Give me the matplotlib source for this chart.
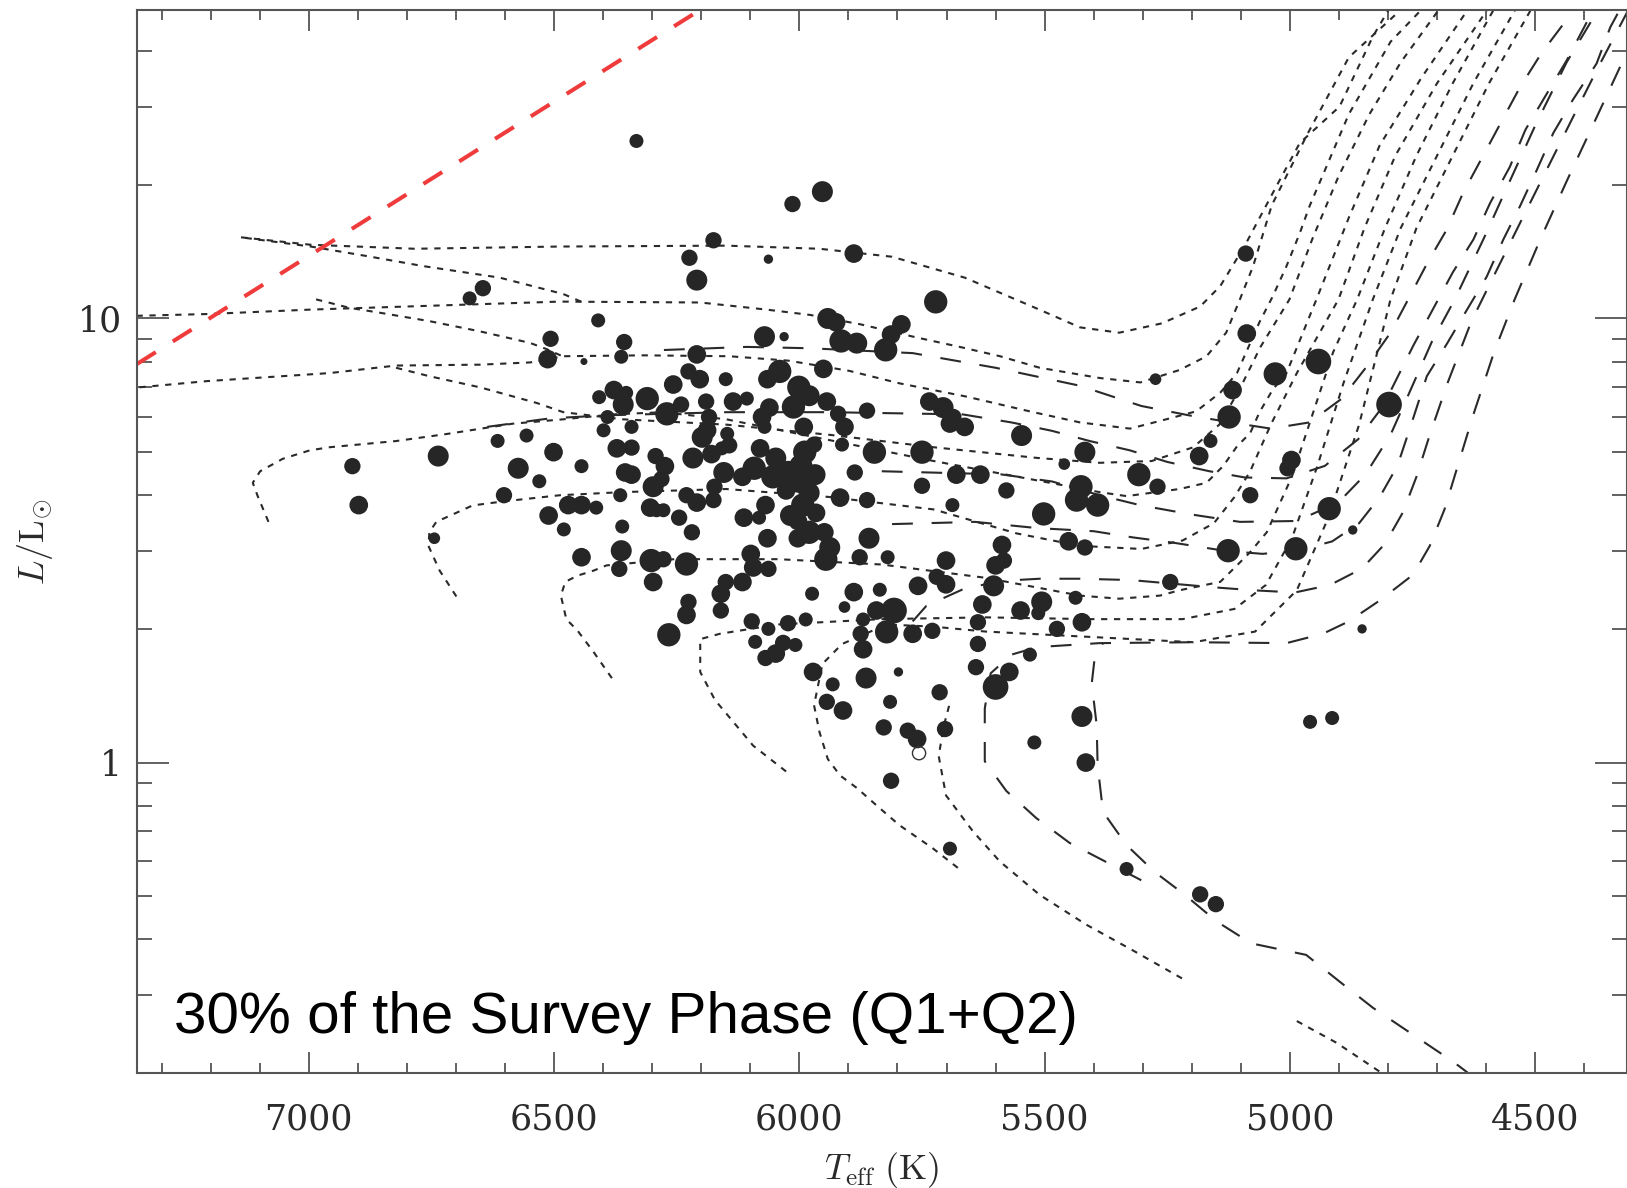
import numpy as np
import matplotlib
matplotlib.use('Agg')
import matplotlib.pyplot as plt
from matplotlib import ticker

plt.rcParams['font.family'] = ['DejaVu Serif']
plt.rcParams['mathtext.fontset'] = 'cm'

# stars: Teff (K), L/Lsun, marker radius as read (px)
star_teff = [6332, 5953, 6014, 6175, 5889, 6224, 6063, 6209, 5090, 6645, 6672, 5722, 6410, 6507, 6513, 6439,
             6357, 6363, 6209, 6071, 6031, 5942, 5925, 5915, 5883, 5824, 5813, 5792, 5088, 4942, 5030, 5274,
             5117, 5124, 5162, 5185, 4997, 5005, 5081, 4798, 4920, 4872, 4988, 5126, 5244, 4853, 4959, 4914,
             5418, 5460, 5308, 5270, 5426, 5435, 5392, 5502, 5451, 5418, 5547, 5578, 5631, 5688, 5587, 5583,
             5600, 5604, 5627, 5636, 5636, 5640, 5600, 5572, 5530, 5513, 5549, 5506, 5475, 5437, 5424, 5424,
             5416, 5521, 5333, 5183, 5151, 5693, 5813, 5703, 5714, 5760, 5779, 5828, 5815, 5798, 5864, 5972,
             5932, 5911, 5944, 5769, 5729, 5807, 5822, 5843, 5870, 5875, 5836, 5889, 5877, 5820, 5858, 5862,
             5862, 5847, 5750, 5750, 5680, 5693, 5663, 5735, 5707, 5686, 5908, 5913, 5944, 5980, 6001, 5951,
             6040, 6065, 6076, 6071, 6080, 6048, 6092, 6116, 6054, 6023, 5997, 5968, 5989, 6000, 6027, 5980,
             5993, 6018, 5966, 6003, 5980, 6003, 5949, 5946, 5938, 6069, 6082, 6065, 6113, 6094, 6063, 6099,
             6116, 6150, 6160, 6160, 6226, 6230, 6266, 6097, 6090, 6063, 6069, 6048, 6033, 6008, 5987, 5974,
             6023, 6143, 6179, 6198, 6217, 6188, 6184, 6147, 6158, 6190, 6203, 6226, 6257, 6241, 6270, 6310,
             6359, 6353, 6378, 6408, 6391, 6372, 6355, 6342, 6293, 6274, 6281, 6298, 6291, 6277, 6304, 6245,
             6230, 6209, 6175, 6173, 6154, 6219, 6230, 6277, 6298, 6302, 6363, 6367, 6361, 6365, 6414, 6444,
             6471, 6480, 6511, 6444, 6501, 6573, 6530, 6602, 6556, 6615, 6736, 6911, 6898, 6744, 6399, 6342,
             6444, 6107, 6150, 6135, 6061, 5991, 5970, 5921, 5887, 5917, 5870, 6012, 5908, 5758, 5720, 5701,
             5701, 6342]
star_lum = [25.1, 19.3, 18.1, 15.0, 14.0, 13.7, 13.6, 12.2, 14.0, 11.7, 11.1, 10.9, 9.9, 9.0, 8.1, 8.0,
            8.85, 8.2, 8.3, 9.1, 9.1, 10.0, 9.8, 8.9, 8.8, 8.5, 9.2, 9.7, 9.25, 8.0, 7.5, 7.3,
            6.9, 6.0, 5.3, 4.9, 4.8, 4.6, 4.0, 6.4, 3.73, 3.34, 3.03, 3.0, 2.55, 2.0, 1.235, 1.26,
            5.0, 4.7, 4.45, 4.18, 4.18, 3.9, 3.8, 3.63, 3.15, 3.05, 5.45, 4.1, 4.45, 3.8, 3.09, 2.85,
            2.78, 2.5, 2.27, 2.07, 1.85, 1.64, 1.48, 1.6, 1.75, 2.17, 2.2, 2.3, 2.0, 2.35, 2.07, 1.27,
            1.0, 1.11, 0.576, 0.505, 0.48, 0.64, 0.91, 1.19, 1.44, 1.13, 1.18, 1.2, 1.37, 1.6, 1.55, 1.6,
            1.5, 1.31, 1.37, 1.95, 1.98, 2.2, 1.97, 2.2, 2.1, 1.95, 2.45, 2.42, 2.9, 2.9, 3.2, 3.9,
            6.2, 5.0, 5.0, 4.2, 4.45, 5.8, 5.7, 6.5, 6.3, 6.0, 5.7, 5.2, 6.5, 6.7, 7.0, 7.7,
            7.6, 7.3, 6.0, 5.7, 5.1, 4.85, 4.6, 4.4, 4.4, 4.5, 4.65, 4.45, 5.0, 4.3, 4.1, 4.05,
            3.8, 3.6, 3.65, 3.5, 3.3, 3.2, 3.3, 2.87, 3.05, 3.8, 3.56, 3.2, 3.56, 2.75, 2.73, 2.95,
            2.55, 2.55, 2.4, 2.2, 2.3, 2.15, 1.94, 2.08, 1.87, 2.0, 1.72, 1.76, 1.86, 1.84, 2.1, 2.4,
            2.06, 5.18, 4.95, 5.4, 4.85, 5.6, 6.0, 5.5, 5.1, 6.5, 7.3, 7.6, 7.1, 6.4, 6.1, 6.6,
            6.4, 6.8, 6.9, 6.65, 6.0, 5.1, 4.5, 4.45, 4.9, 4.65, 4.35, 4.18, 3.7, 3.7, 3.75, 3.56,
            4.0, 3.85, 3.9, 4.18, 4.5, 3.3, 2.8, 2.87, 2.55, 2.85, 3.0, 2.73, 3.4, 4.0, 3.75, 3.8,
            3.8, 3.35, 3.6, 2.9, 5.0, 4.6, 4.3, 4.0, 5.45, 5.3, 4.9, 4.65, 3.8, 3.2, 5.6, 5.7,
            4.65, 6.6, 7.3, 6.5, 6.3, 5.7, 5.2, 6.1, 4.5, 3.95, 1.8, 6.32, 2.24, 2.5, 2.62, 2.52,
            2.85, 5.12]
star_r = [6, 9, 7, 7, 8, 7, 4, 9, 7, 7, 6, 10, 6, 7, 8, 3,
          7, 6, 8, 9, 4, 9, 8, 10, 9, 10, 8, 8, 8, 11, 10, 5,
          8, 10, 6, 8, 8, 7, 7, 11, 10, 4, 10, 10, 7, 4, 6, 6,
          9, 5, 10, 7, 10, 10, 10, 10, 8, 7, 9, 7, 8, 6, 8, 7,
          8, 9, 8, 7, 7, 7, 11, 8, 6, 6, 8, 9, 7, 6, 8, 9,
          8, 6, 6, 7, 7, 6, 7, 7, 7, 8, 7, 7, 6, 4, 9, 8,
          6, 8, 7, 8, 7, 11, 10, 8, 6, 7, 6, 8, 7, 6, 9, 7,
          7, 10, 10, 7, 8, 8, 8, 8, 9, 7, 8, 6, 8, 9, 10, 8,
          10, 8, 8, 6, 8, 9, 10, 8, 10, 10, 10, 9, 10, 10, 8, 9,
          10, 9, 8, 8, 10, 8, 8, 10, 9, 8, 6, 8, 8, 8, 7, 8,
          8, 7, 8, 7, 7, 8, 10, 7, 6, 6, 7, 8, 7, 6, 6, 6,
          7, 7, 8, 9, 9, 8, 7, 6, 6, 7, 8, 7, 8, 7, 10, 10,
          9, 6, 8, 6, 6, 8, 8, 8, 7, 8, 7, 9, 6, 6, 8, 7,
          7, 8, 7, 7, 9, 7, 10, 7, 8, 10, 9, 7, 6, 6, 6, 8,
          8, 6, 8, 8, 8, 9, 6, 7, 6, 6, 9, 7, 8, 5, 6, 6,
          6, 6, 6, 8, 8, 8, 7, 7, 7, 8, 8, 10, 5, 8, 7, 8,
          8, 7]
open_teff = [5756]
open_lum = [1.05]

# red dashed limit line
red_teff = [7350, 6190]
red_lum = [7.9, 50.5]

# dotted evolutionary tracks (Teff, log L)
d1_teff = [6445, 6481, 6611, 6767, 6884, 6996, 7140, 6996, 6784, 6488, 6149, 5959, 5811, 5663, 5515, 5428,
           5348, 5261, 5183, 5142, 5092, 5028, 4980, 4899, 4831, 4800]
d1_logl = [1.038, 1.055, 1.092, 1.118, 1.141, 1.162, 1.183, 1.166, 1.157, 1.162, 1.164, 1.157, 1.139, 1.092,
           1.022, 0.980, 0.968, 0.989, 1.027, 1.073, 1.164, 1.297, 1.395, 1.477, 1.635, 1.693]
d2_teff = [7351, 7207, 6996, 6742, 6488, 6202, 6067, 5978, 5876, 5760, 5673, 5591, 5510, 5388, 5305, 5225,
           5170, 5130, 5102, 5075, 5037, 4965, 4880, 4776]
d2_logl = [1.006, 1.010, 1.020, 1.029, 1.038, 1.036, 1.020, 1.008, 0.987, 0.957, 0.936, 0.915, 0.889, 0.866,
           0.856, 0.884, 0.915, 0.968, 1.043, 1.118, 1.255, 1.414, 1.588, 1.693]
d2b_teff = [6985, 6917, 6850, 6754, 6651, 6549, 6515, 6477]
d2b_logl = [1.043, 1.024, 1.012, 0.994, 0.971, 0.945, 0.931, 0.912]
d3_teff = [7345, 7207, 6958, 6822, 6651, 6549, 6481, 6319, 6143, 6022, 5898, 5796, 5659, 5523, 5428, 5326,
           5252, 5191, 5142, 5108, 5062, 5035, 5007, 4980, 4960, 4880, 4795, 4734]
d3_logl = [0.845, 0.859, 0.877, 0.894, 0.896, 0.901, 0.915, 0.917, 0.915, 0.905, 0.882, 0.854, 0.824, 0.789,
           0.766, 0.752, 0.773, 0.791, 0.833, 0.877, 0.992, 1.050, 1.118, 1.192, 1.253, 1.460, 1.623, 1.693]
d3b_teff = [6822, 6754, 6651, 6536, 6481, 6361, 6149, 5938, 5726, 5515, 5388, 5282, 5197, 5144, 5102, 5060,
            5001, 4954, 4901, 4838, 4774, 4698]
d3b_logl = [0.889, 0.870, 0.845, 0.810, 0.789, 0.773, 0.761, 0.738, 0.710, 0.686, 0.675, 0.679, 0.710, 0.761,
            0.842, 0.936, 1.043, 1.180, 1.320, 1.460, 1.577, 1.693]
d4_teff = [7082, 7104, 7114, 7099, 7053, 6998, 6958, 6822, 6718, 6585, 6481, 6380, 6279, 6149, 5938, 5726,
           5557, 5388, 5333, 5225, 5170, 5136, 5108, 5081, 5062, 5035, 5007, 4946, 4880, 4817, 4732, 4639]
d4_logl = [0.542, 0.600, 0.630, 0.656, 0.684, 0.703, 0.710, 0.724, 0.740, 0.763, 0.773, 0.784, 0.789, 0.773,
           0.726, 0.679, 0.644, 0.609, 0.600, 0.616, 0.630, 0.668, 0.712, 0.742, 0.789, 0.840, 0.877, 1.043,
           1.227, 1.390, 1.542, 1.693]
d5_teff = [6699, 6733, 6756, 6754, 6740, 6712, 6666, 6604, 6488, 6361, 6149, 5938, 5726, 5557, 5428, 5303,
           5219, 5155, 5113, 5081, 5039, 4986, 4901, 4848, 4785, 4700, 4599]
d5_logl = [0.374, 0.432, 0.488, 0.519, 0.542, 0.556, 0.579, 0.588, 0.602, 0.609, 0.616, 0.598, 0.570, 0.516,
           0.488, 0.481, 0.500, 0.539, 0.598, 0.656, 0.761, 0.877, 1.043, 1.204, 1.367, 1.530, 1.693]
d6_teff = [6382, 6420, 6452, 6475, 6486, 6477, 6452, 6420, 6393, 6255, 6043, 5832, 5620, 5428, 5348, 5265,
           5225, 5142, 5108, 5081, 5047, 4996, 4954, 4912, 4863, 4806, 4742, 4668, 4586]
d6_logl = [0.190, 0.250, 0.297, 0.323, 0.376, 0.407, 0.421, 0.432, 0.444, 0.458, 0.458, 0.446, 0.416, 0.376,
           0.369, 0.376, 0.388, 0.407, 0.444, 0.474, 0.519, 0.644, 0.784, 0.924, 1.043, 1.204, 1.367, 1.530,
           1.693]
d7_teff = [6027, 6094, 6172, 6202, 6202, 6162, 6043, 5832, 5620, 5408, 5219, 5113, 5049, 4996, 4944, 4891,
           4831, 4774, 4700, 4626, 4542]
d7_logl = [-0.020, 0.038, 0.141, 0.204, 0.278, 0.290, 0.311, 0.323, 0.327, 0.323, 0.323, 0.346, 0.400, 0.505,
           0.668, 0.854, 1.043, 1.204, 1.367, 1.530, 1.693]
d8_teff = [5677, 5728, 5796, 5842, 5883, 5917, 5942, 5959, 5970, 5953, 5913, 5822, 5726, 5620, 5408, 5197,
           5071, 4986, 4922, 4859, 4795, 4742, 4668, 4594, 4510]
d8_logl = [-0.237, -0.193, -0.141, -0.097, -0.057, -0.029, 0.008, 0.069, 0.129, 0.222, 0.267, 0.311, 0.306,
           0.295, 0.283, 0.271, 0.295, 0.388, 0.551, 0.761, 1.043, 1.204, 1.367, 1.530, 1.693]
d9_teff = [5220, 5320, 5415, 5510, 5591, 5646, 5701, 5716, 5705, 5694]
d9_logl = [-0.486, -0.423, -0.365, -0.298, -0.223, -0.155, -0.074, 0.015, 0.085, 0.131]
d10_teff = [4986, 4905, 4817]
d10_logl = [-0.582, -0.631, -0.696]

# long-dashed evolutionary tracks (Teff, log L)
e1_teff = [6276, 6107, 5980, 5769, 5600, 5430, 5303, 5197, 5092, 5039, 4960, 4895, 4844, 4795, 4759, 4719,
           4681, 4647, 4607, 4571, 4531, 4487, 4444, 4410]
e1_logl = [0.929, 0.936, 0.933, 0.922, 0.889, 0.849, 0.803, 0.780, 0.761, 0.752, 0.766, 0.819, 0.891, 0.968,
           1.043, 1.127, 1.199, 1.283, 1.365, 1.439, 1.521, 1.598, 1.661, 1.717]
e2_teff = [6636, 6509, 6393, 6149, 5938, 5667, 5568, 5485, 5408, 5326, 5250, 5164, 5092, 5007, 4929, 4861,
           4810, 4783, 4749, 4709, 4668, 4626, 4592, 4552, 4520, 4476, 4436, 4396, 4370]
e2_logl = [0.756, 0.775, 0.782, 0.789, 0.789, 0.784, 0.766, 0.747, 0.724, 0.703, 0.677, 0.656, 0.642, 0.640,
           0.668, 0.728, 0.803, 0.863, 0.938, 1.020, 1.104, 1.178, 1.260, 1.341, 1.425, 1.507, 1.581, 1.665,
           1.717]
e2b_teff = [5832, 5589, 5485, 5388, 5303, 5197, 5102, 4986, 4901, 4846, 4795, 4753, 4711, 4664, 4605, 4552,
            4499, 4436, 4360]
e2b_logl = [0.656, 0.649, 0.633, 0.602, 0.579, 0.558, 0.542, 0.544, 0.586, 0.649, 0.738, 0.842, 0.947, 1.043,
            1.180, 1.309, 1.437, 1.577, 1.717]
e3_teff = [5811, 5642, 5515, 5400, 5320, 5237, 5134, 5056, 4986, 4914, 4859, 4817, 4781, 4753, 4721, 4679,
           4639, 4599, 4565, 4531, 4497, 4463, 4423, 4375, 4347, 4317]
e3_logl = [0.537, 0.542, 0.528, 0.521, 0.507, 0.495, 0.477, 0.470, 0.477, 0.498, 0.539, 0.598, 0.668, 0.761,
           0.870, 0.945, 1.020, 1.094, 1.178, 1.253, 1.334, 1.418, 1.493, 1.574, 1.656, 1.717]
e4a_teff = [5769, 5741, 5667, 5591, 5510, 5428, 5324, 5159, 5075, 4990, 4918, 4853, 4806, 4770, 4742, 4715,
            4679, 4630, 4584, 4531, 4478, 4425, 4372, 4313]
e4a_logl = [0.318, 0.353, 0.390, 0.409, 0.414, 0.414, 0.411, 0.395, 0.388, 0.383, 0.400, 0.437, 0.493, 0.563,
            0.644, 0.738, 0.854, 0.994, 1.097, 1.215, 1.332, 1.449, 1.565, 1.689]
e4b_teff = [4626, 4668, 4831, 4899, 4967, 5079, 5149, 5214, 5276, 5333, 5381, 5392, 5394, 5404, 5398, 5381]
e4b_logl = [-0.708, -0.673, -0.552, -0.493, -0.433, -0.407, -0.358, -0.298, -0.246, -0.186, -0.111, -0.006,
            0.085, 0.178, 0.236, 0.269]
e5_teff = [5303, 5449, 5517, 5578, 5622, 5622, 5610, 5568, 5515, 5388, 5197, 5007, 4933, 4880, 4817, 4749,
           4715, 4685, 4658, 4626, 4584, 4542, 4489, 4436, 4372, 4313]
e5_logl = [-0.265, -0.181, -0.125, -0.064, 0.003, 0.122, 0.201, 0.243, 0.260, 0.269, 0.271, 0.269, 0.290,
           0.318, 0.365, 0.423, 0.488, 0.570, 0.668, 0.784, 0.924, 1.043, 1.180, 1.309, 1.460, 1.600]

dotted_tracks = [(d1_teff, d1_logl), (d2_teff, d2_logl), (d2b_teff, d2b_logl), (d3_teff, d3_logl),
                 (d3b_teff, d3b_logl), (d4_teff, d4_logl), (d5_teff, d5_logl), (d6_teff, d6_logl),
                 (d7_teff, d7_logl), (d8_teff, d8_logl), (d9_teff, d9_logl), (d10_teff, d10_logl)]
dashed_tracks = [(e1_teff, e1_logl), (e2_teff, e2_logl), (e2b_teff, e2b_logl), (e3_teff, e3_logl),
                 (e4a_teff, e4a_logl), (e4b_teff, e4b_logl), (e5_teff, e5_logl)]

W, H = 1627, 1188
fig = plt.figure(figsize=(W / 100, H / 100), dpi=100)
ax = fig.add_axes([137 / W, 1 - 1073 / H, 1490 / W, 1063 / H])

line_col = '#2a2a2a'
for teff, logl in dotted_tracks:
    ax.plot(teff, 10 ** np.asarray(logl), color=line_col, lw=1.5, ls=(0, (3.0, 3.2)), zorder=2)
for teff, logl in dashed_tracks:
    ax.plot(teff, 10 ** np.asarray(logl), color=line_col, lw=1.5, ls=(0, (10, 9)), zorder=2)

ax.plot(red_teff, red_lum, color='#ef3b3b', lw=2.9, ls=(0, (5.5, 5)), zorder=2)

sizes = (1.68 * np.asarray(star_r)) ** 2
ax.scatter(star_teff, star_lum, s=sizes, c='#262626', edgecolors='none', zorder=3)
ax.scatter(open_teff, open_lum, s=90, facecolors='none', edgecolors='#333333', linewidths=1.0, zorder=4)

ax.set_xlim(7350, 4313)
ax.set_yscale('log')
ax.set_ylim(0.2, 49.5)

ax.xaxis.set_major_locator(ticker.MultipleLocator(500))
ax.xaxis.set_minor_locator(ticker.MultipleLocator(100))
ax.yaxis.set_major_locator(ticker.LogLocator(base=10, numticks=10))
ax.yaxis.set_minor_locator(ticker.LogLocator(base=10, subs=np.arange(2, 10), numticks=20))
ax.yaxis.set_major_formatter(ticker.FuncFormatter(lambda v, p: f'{v:g}'))
ax.yaxis.set_minor_formatter(ticker.NullFormatter())

for sp in ax.spines.values():
    sp.set_color('#555555')
    sp.set_linewidth(1.5)
ax.tick_params(which='both', direction='in', top=True, right=True, color='#555555', width=1.3,
               labelsize=25, labelcolor='#2a2a2a')
ax.tick_params(axis='x', which='major', length=15, pad=21)
ax.tick_params(axis='x', which='minor', length=7)
ax.tick_params(axis='y', which='major', length=23, pad=11)
ax.tick_params(axis='y', which='minor', length=11)

ax.set_xlabel(r'$T_{\rm eff}\ \rm (K)$', fontsize=26, color='#2a2a2a')
ax.set_ylabel(r'$L/\rm L_{\odot}$', fontsize=26, color='#2a2a2a')
ax.xaxis.set_label_coords(0.5, -0.072)
ax.yaxis.set_label_coords(-0.055, 0.5)

ax.text(0.0248, 0.0376, '30% of the Survey Phase (Q1+Q2)', transform=ax.transAxes,
        fontsize=42, family='Liberation Sans', color='black', va='baseline', ha='left', zorder=5)

fig.savefig('out.png', dpi=100)
